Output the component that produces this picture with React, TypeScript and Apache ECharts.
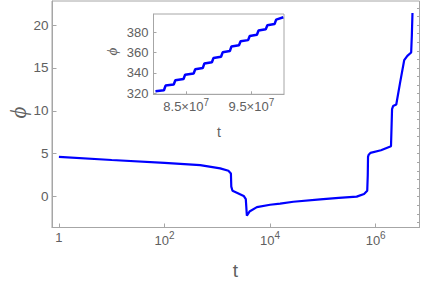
import React, { useEffect, useRef } from "react";
import * as echarts from "echarts";

// Main curve: time t and field value phi
const mainT = [
  1, 10, 100, 474, 1135, 1622, 1811, 1841, 1941, 2344, 3162, 3467, 3631, 4074,
  5623, 10000, 15490, 27540, 89130, 199500, 436500, 602600, 691800, 707900,
  716100, 732800, 794300, 1259000, 1950000, 1995000, 2042000, 2138000, 2455000,
  2884000, 3467000, 3981000, 4699000, 4842000, 4977000,
];
const mainPhi = [
  4.63, 4.27, 3.93, 3.67, 3.29, 3.01, 2.7, 1.16, 0.69, 0.46, 0.08, -0.3, -2.23,
  -1.74, -1.23, -0.95, -0.82, -0.6, -0.32, -0.15, 0.0, 0.31, 0.69, 2.5, 4.63,
  4.85, 5.1, 5.4, 5.87, 8.0, 10.2, 10.55, 10.73, 13.2, 15.9, 16.4, 16.8, 18.8,
  21.4,
];

// Inset: staircase plateaus
const insetPlateauStart = [
  8.03e7, 8.185e7, 8.335e7, 8.485e7, 8.64e7, 8.78e7, 8.92e7, 9.06e7, 9.195e7,
  9.335e7, 9.475e7, 9.61e7, 9.745e7, 9.88e7,
];
const insetPlateauEnd = [
  8.16e7, 8.31e7, 8.46e7, 8.615e7, 8.755e7, 8.895e7, 9.035e7, 9.17e7, 9.31e7,
  9.45e7, 9.585e7, 9.72e7, 9.855e7, 9.99e7,
];
const insetPhiStart = [
  322.0, 327.6, 332.8, 338.3, 343.6, 349.4, 354.8, 360.3, 366.1, 371.1, 376.4,
  381.7, 386.9, 392.5,
];
const insetPhiEnd = [
  323.0, 328.7, 334.0, 339.5, 344.8, 350.6, 356.0, 361.5, 367.3, 372.3, 377.6,
  382.9, 388.1, 394.8,
];

// Tick values
const mainXTicks = [1, 100, 10000, 1000000];
const mainYTicks = [0, 5, 10, 15, 20];
const mainYMinorTicks = [-3, -2, -1, 0, 1, 2, 3, 4, 5, 6, 7, 8, 9, 10, 11, 12, 13, 14, 15, 16, 17, 18, 19, 20, 21, 22];
const insetXTicks = [8.5e7, 9.5e7];
const insetYTicks = [320, 340, 360, 380];

const TEXT = "#606060";
const AXIS = "#a6a6a6";
const FONT = "Liberation Sans, Arial, sans-serif";
const SERIF = "Liberation Serif, DejaVu Serif, serif";

export default function App() {
  const ref = useRef<HTMLDivElement>(null);

  useEffect(() => {
    if (!ref.current) return;
    const chart = echarts.init(ref.current, undefined, { renderer: "svg" });

    const mainData = mainT.map((t, i) => [t, mainPhi[i]]);
    const insetData: number[][] = [];
    insetPlateauStart.forEach((s, i) => {
      insetData.push([s, insetPhiStart[i]]);
      insetData.push([insetPlateauEnd[i], insetPhiEnd[i]]);
    });

    const supRich = {
      b: { fontSize: 13, verticalAlign: "bottom", color: TEXT, fontFamily: FONT },
      s: { fontSize: 10, verticalAlign: "bottom", padding: [0, 0, 6, 0], color: TEXT, fontFamily: FONT },
    };

    chart.setOption({
      animation: false,
      grid: [
        {
          left: 52,
          top: 1,
          right: 1.5,
          bottom: 55.5,
          show: true,
          borderColor: AXIS,
          borderWidth: 1,
          backgroundColor: "transparent",
        },
        {
          left: 153.5,
          top: 14,
          width: 130.5,
          height: 80.3,
          show: true,
          borderColor: AXIS,
          borderWidth: 1,
          backgroundColor: "#ffffff",
        },
      ],
      xAxis: [
        {
          type: "log",
          logBase: 10,
          gridIndex: 0,
          min: 0.74,
          max: 6.76e6,
          axisLine: { onZero: false, lineStyle: { color: AXIS } },
          axisTick: { inside: true, length: 4, lineStyle: { color: AXIS }, customValues: mainXTicks },
          axisLabel: {
            customValues: mainXTicks,
            margin: 3,
            formatter: (v: number) =>
              v === 1 ? "{b|1}" : "{b|10}{s|" + Math.round(Math.log10(v)) + "}",
            rich: supRich,
          },
          splitLine: { show: false },
          minorTick: { show: false },
        },
        {
          type: "value",
          gridIndex: 1,
          min: 8.0e7,
          max: 1.0e8,
          axisLine: { onZero: false, lineStyle: { color: AXIS } },
          axisTick: { inside: true, length: 3, lineStyle: { color: AXIS }, customValues: insetXTicks },
          axisLabel: {
            customValues: insetXTicks,
            margin: 3,
            formatter: (v: number) => {
              const m = (v / 1e7).toFixed(1);
              return "{b|" + m + "×10}{s|7}";
            },
            rich: supRich,
          },
          splitLine: { show: false },
        },
      ],
      yAxis: [
        {
          type: "value",
          gridIndex: 0,
          min: -3.6,
          max: 22.8,
          axisLine: { show: true, onZero: false, lineStyle: { color: AXIS } },
          axisTick: { show: true, inside: true, length: 4.5, lineStyle: { color: AXIS }, customValues: mainYTicks },
          axisLabel: {
            customValues: mainYTicks,
            margin: 3.5,
            color: TEXT,
            fontSize: 13.5,
            fontFamily: FONT,
          },
          splitLine: { show: false },
        },
        {
          type: "value",
          gridIndex: 0,
          min: -3.6,
          max: 22.8,
          axisLine: { show: false, onZero: false },
          axisTick: { show: true, inside: true, length: 2.5, lineStyle: { color: AXIS }, customValues: mainYMinorTicks },
          axisLabel: { show: false },
          splitLine: { show: false },
        },
        {
          type: "value",
          gridIndex: 1,
          min: 319,
          max: 398,
          axisLine: { show: true, onZero: false, lineStyle: { color: AXIS } },
          axisTick: { show: true, inside: true, length: 3, lineStyle: { color: AXIS }, customValues: insetYTicks },
          axisLabel: {
            customValues: insetYTicks,
            margin: 5,
            color: TEXT,
            fontSize: 13,
            fontFamily: FONT,
          },
          splitLine: { show: false },
        },
      ],
      series: [
        {
          type: "line",
          xAxisIndex: 0,
          yAxisIndex: 0,
          data: mainData,
          showSymbol: false,
          lineStyle: { color: "#0000ff", width: 2.2 },
          z: 3,
        },
        {
          type: "line",
          xAxisIndex: 1,
          yAxisIndex: 2,
          data: insetData,
          showSymbol: false,
          lineStyle: { color: "#0000ff", width: 2.5 },
          z: 5,
        },
      ],
      graphic: [
        {
          type: "text",
          x: 235.5,
          y: 270,
          style: { text: "t", fill: TEXT, fontSize: 19, fontFamily: FONT, align: "center", verticalAlign: "middle" },
        },
        {
          type: "text",
          x: 18,
          y: 112.5,
          rotation: Math.PI / 2,
          style: { text: "ϕ", fill: TEXT, fontSize: 23, fontStyle: "italic", fontFamily: SERIF, align: "center", verticalAlign: "middle" },
        },
        {
          type: "text",
          x: 219,
          y: 131.5,
          style: { text: "t", fill: TEXT, fontSize: 14, fontFamily: FONT, align: "center", verticalAlign: "middle" },
        },
        {
          type: "text",
          x: 111.7,
          y: 51.7,
          rotation: Math.PI / 2,
          style: { text: "ϕ", fill: TEXT, fontSize: 15, fontStyle: "italic", fontFamily: SERIF, align: "center", verticalAlign: "middle" },
        },
      ],
    });

    return () => chart.dispose();
  }, []);

  return (
    <div
      ref={ref}
      style={{ position: "fixed", left: 0, top: 0, width: 421, height: 283, background: "#fff" }}
    />
  );
}
